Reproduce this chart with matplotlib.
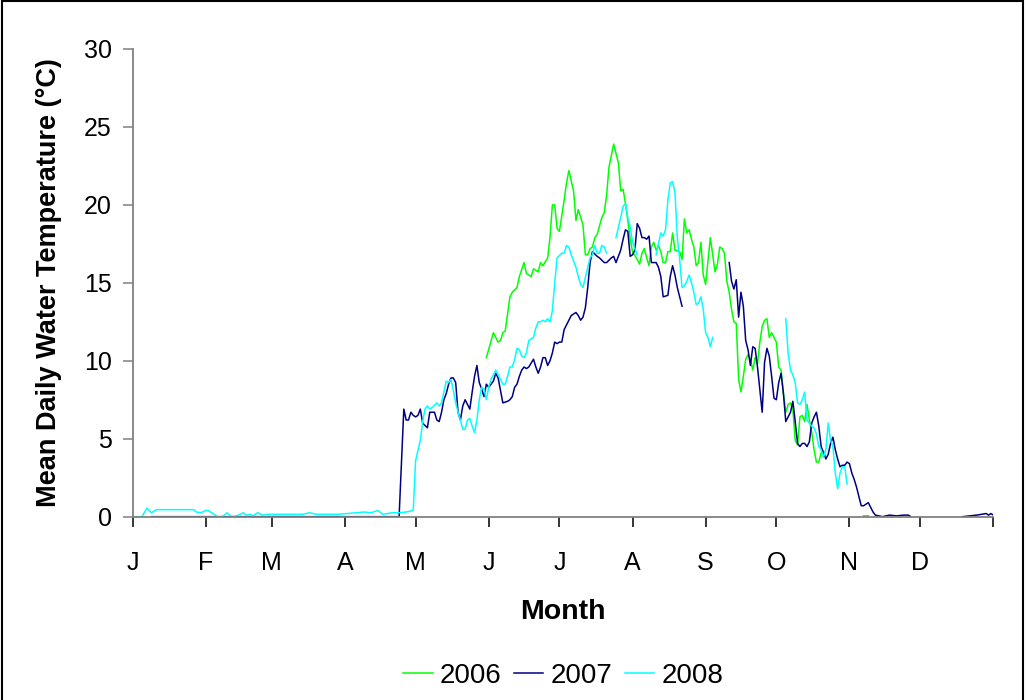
import numpy as np
import matplotlib
matplotlib.use('Agg')
import matplotlib.pyplot as plt
from matplotlib.patches import Rectangle

plt.rcParams['font.family'] = ['Liberation Sans', 'DejaVu Sans']

# 月份刻度 (每月第一天)
month_starts = [0, 31, 59, 90, 120, 151, 181, 212, 243, 273, 304, 334]
month_labels = ['J', 'F', 'M', 'A', 'M', 'J', 'J', 'A', 'S', 'O', 'N', 'D']

# 2006 (day of year, temperature); None = gap
days_2006 = [150, 153, 155, 156, 157, 158, 160, 161, 163, 164, 166, 167, 169, 170, 172, 173, 174, 176, 177, 178,
             179, 180, 181, 183, 184, 185, 187, 188, 189, 191, 192, 193, 194, 195, 196, 197, 199, 200, 201, 202,
             204, 206, 207, 208, 209, 210, 211, 212, 214, 215, 216, 217, 218, 219, 220, 221, 222, 223, 224, 225,
             226, 227, 228, 229, 230, 232, 233, 234, 235, 236, 237, 238, 239, 240, 241, 242, 243, 245, 247, 248,
             249, 250, 251, 252, 253, 254, 255, 256, 257, 258, 259, 260, 261, 262, 263, 264, 265, 266, 267, 268,
             269, 270, 271, 272, 273, 274, 275, 276, 277, 278, 279, 280, 281, 282, 283, 284, 285, 286, 287, 288,
             289, 290, 291, 292, 293, 294, None, 310, 312]
temp_2006 = [10.2, 11.8, 11.2, 11.3, 11.8, 11.9, 14.1, 14.4, 14.7, 15.4, 16.3, 15.6, 15.4, 15.9, 15.7, 16.3, 16.1, 16.6, 17.9, 20.0,
             20.0, 18.5, 18.3, 20.3, 21.4, 22.2, 20.9, 19.0, 19.7, 18.7, 16.8, 16.8, 17.2, 17.3, 17.9, 18.1, 19.2, 19.5, 20.6, 22.4,
             23.9, 22.7, 20.9, 21.0, 20.1, 19.0, 17.8, 17.0, 16.5, 16.2, 16.9, 17.2, 16.6, 16.1, 17.3, 17.6, 17.1, 17.4, 17.0, 16.3,
             16.3, 17.0, 17.0, 18.2, 17.1, 17.0, 16.5, 19.1, 18.2, 18.4, 17.8, 17.3, 16.1, 16.3, 17.6, 15.5, 14.9, 17.9, 15.7, 16.2,
             17.3, 17.2, 16.9, 15.1, 14.4, 13.3, 12.5, 12.4, 8.8, 8.0, 9.0, 10.1, 10.4, 10.1, 9.4, 10.2, 9.8, 11.2, 12.2, 12.6,
             12.7, 11.5, 11.8, 11.5, 11.2, 9.6, 9.4, 7.9, 6.7, 7.2, 7.3, 6.9, 4.9, 4.6, 6.4, 6.5, 6.1, 7.2, 6.2, 5.4,
             4.3, 3.5, 3.5, 4.1, 4.2, 3.8, None, 0.05, 0.05]

# 2007
days_2007 = [8, 60, 112, 113, 115, 116, 117, 118, 119, 120, 121, 122, 123, 125, 126, 127, 128, 129, 130, 131,
             132, 133, 134, 135, 136, 137, 138, 139, 140, 141, 142, 143, 144, 145, 146, 147, 148, 149, 150, 151,
             152, 153, 154, 155, 157, 159, 160, 161, 162, 163, 164, 165, 166, 167, 168, 170, 171, 172, 173, 174,
             175, 176, 177, 178, 179, 180, 181, 182, 183, 185, 186, 188, 189, 190, 191, 192, 193, 194, 195, 197,
             198, 200, 201, 203, 204, 205, 207, 208, 209, 210, 211, 212, 213, 214, 215, 216, 217, 218, 219, 220,
             222, 223, 224, 225, 227, 228, 229, 230, 231, 232, 233, None,
             253, 254, 255, 256, 257, 258, 259, 260, 261, 262, 263, 264, 265, 267, 268, 269, 270, 271, 272, 273,
             274, 275, 276, 277, 278, 279, 280, 281, 282, 283, 284, 285, 286, 287, 288, 289, 290, 291, 292, 293,
             294, 295, 296, 297, 298, 299, 300, 301, 302, 303, 304, 305, 306, 307, 308, 309, 310, 311, 312, 313,
             314, 315, 318, 321, 324, 327, 329, 330, None,
             352, 355, 358, 360, 362, 363, 364, 365]
temp_2007 = [0.0, 0.0, 0.0, 0.0, 6.9, 6.2, 6.2, 6.7, 6.5, 6.4, 6.5, 6.9, 6.0, 5.7, 6.7, 6.7, 6.7, 6.2, 6.1, 6.7,
             7.5, 7.9, 8.5, 8.9, 8.9, 8.6, 6.7, 6.2, 7.1, 7.5, 7.2, 6.9, 8.0, 9.0, 9.7, 8.6, 8.2, 7.7, 8.5, 8.3,
             8.5, 8.7, 9.2, 8.9, 7.3, 7.4, 7.5, 7.7, 8.3, 8.5, 9.0, 9.4, 9.6, 9.5, 9.6, 10.1, 9.6, 9.2, 9.6, 10.2,
             10.2, 9.7, 10.0, 10.5, 11.2, 11.1, 11.2, 11.2, 12.0, 12.6, 12.9, 13.1, 12.9, 12.6, 12.8, 13.4, 14.7, 16.3, 17.0, 16.7,
             16.6, 16.3, 16.3, 16.6, 16.7, 16.3, 17.1, 17.8, 18.4, 18.3, 16.7, 16.8, 17.1, 18.8, 18.5, 17.9, 17.9, 17.8, 18.0, 16.3,
             16.3, 16.0, 15.4, 14.1, 14.2, 15.4, 16.1, 15.5, 14.7, 14.1, 13.5, None,
             16.3, 15.1, 14.6, 15.2, 12.8, 14.4, 13.5, 11.3, 10.7, 9.7, 10.9, 10.8, 9.6, 6.7, 9.9, 10.8, 10.3, 9.0, 7.6, 7.5,
             8.6, 9.2, 7.9, 6.1, 6.4, 6.7, 7.4, 6.1, 4.7, 4.5, 4.7, 4.7, 4.5, 4.8, 6.0, 6.4, 6.7, 5.8, 4.5, 4.1,
             3.7, 4.0, 4.7, 5.1, 4.3, 3.7, 3.2, 3.3, 3.3, 3.5, 3.4, 2.8, 2.4, 1.9, 1.3, 0.7, 0.7, 0.8, 0.9, 0.6,
             0.3, 0.1, 0.0, 0.1, 0.05, 0.1, 0.1, 0.0, None,
             0.0, 0.05, 0.1, 0.15, 0.2, 0.1, 0.2, 0.1]

# 2008
days_2008 = [0, 4, 6, 8, 10, 26, 27, 29, 31, 32, 34, 36, 38, 40, 42, 44, 47, 48, 50, 51,
             53, 55, 57, 72, 75, 78, 87, 95, 98, 101, 104, 106, 110, 113, 116, 119, 120, 122, 123, 124,
             125, 126, 127, 129, 130, 131, 132, 133, 134, 135, 136, 137, 138, 139, 140, 141, 142, 143, 144, 145,
             146, 147, 148, 149, 150, 151, 152, 153, 154, 155, 157, 158, 159, 160, 161, 162, 163, 164, 165, 166,
             167, 168, 170, 171, 172, 173, 174, 175, 176, 177, 178, 179, 180, 182, 183, 184, 185, 186, 188, 189,
             190, 191, 193, 194, 195, 196, 197, 198, 199, 200, 201, None,
             205, 207, 208, 209, 210, 211, 212, 213, 214, None,
             222, 224, 225, 226, 227, 228, 229, 230, 231, 232, 233, 234, 235, 236, 237, 238, 239, 240, 241, 242,
             243, 244, 245, 246, None,
             277, 278, 279, 280, 281, 282, 283, 284, 285, 286, 288, 289, 290, 291, 292, 293, 294, 295, 296, 297,
             298, 299, 300, 301, 302, 303]
temp_2008 = [0.0, 0.0, 0.55, 0.25, 0.45, 0.45, 0.3, 0.25, 0.4, 0.4, 0.2, 0.0, 0.0, 0.25, 0.0, 0.05, 0.25, 0.1, 0.15, 0.05,
             0.25, 0.1, 0.15, 0.15, 0.25, 0.15, 0.15, 0.25, 0.3, 0.25, 0.4, 0.15, 0.25, 0.25, 0.3, 0.4, 3.6, 4.9, 6.1, 6.9,
             7.1, 6.9, 7.0, 7.3, 7.1, 7.3, 8.0, 8.7, 8.6, 8.8, 8.1, 7.3, 6.7, 6.2, 5.6, 5.6, 6.2, 6.3, 5.8, 5.4,
             6.2, 7.5, 8.3, 8.2, 7.5, 8.3, 8.8, 9.1, 9.4, 9.1, 8.5, 8.5, 9.0, 9.6, 9.6, 10.1, 10.8, 10.7, 10.3, 10.2,
             10.5, 11.3, 11.5, 12.1, 12.5, 12.5, 12.6, 12.5, 12.7, 12.5, 13.2, 15.0, 16.6, 16.9, 16.9, 17.4, 17.3, 16.8, 16.0, 15.4,
             14.9, 14.7, 16.0, 16.6, 16.8, 17.4, 16.9, 16.9, 17.4, 17.3, 16.9, None,
             17.9, 19.2, 19.9, 20.1, 19.2, 18.6, 17.6, 17.2, 16.8, None,
             16.8, 18.2, 18.0, 18.4, 20.3, 21.4, 21.5, 20.8, 17.9, 16.5, 14.7, 14.8, 15.1, 15.5, 15.0, 14.4, 13.6, 13.7, 14.1, 13.3,
             11.8, 11.5, 10.9, 11.5, None,
             12.7, 10.5, 9.4, 9.1, 8.6, 7.3, 7.2, 7.5, 8.0, 6.2, 5.8, 5.7, 5.3, 4.5, 4.3, 3.8, 4.3, 6.0, 4.9, 4.5,
             2.8, 1.8, 2.8, 3.2, 3.2, 2.1]


def to_arr(vals):
    return np.array([np.nan if v is None else v for v in vals], dtype=float)


fig = plt.figure(figsize=(10.26, 7.0), dpi=100)
ax = fig.add_axes([0.1293, 0.2619, 0.8388, 0.6681])

ax.plot(to_arr(days_2006), to_arr(temp_2006), color='#00FF00', lw=1.1, label='2006')
ax.plot(to_arr(days_2007), to_arr(temp_2007), color='#000080', lw=1.1, label='2007')
ax.plot(to_arr(days_2008), to_arr(temp_2008), color='#00FFFF', lw=1.1, label='2008')

ax.set_xlim(0, 365)
ax.set_ylim(0, 30)
ax.set_yticks([0, 5, 10, 15, 20, 25, 30])
ax.set_xticks(month_starts + [365])
ax.set_xticklabels(month_labels + [''])

for s in ['top', 'right']:
    ax.spines[s].set_visible(False)
for s in ['left', 'bottom']:
    ax.spines[s].set_color('#808080')
    ax.spines[s].set_linewidth(1.3)

ax.tick_params(axis='y', direction='out', length=7, width=1.1, color='#808080', pad=8, labelsize=18)
ax.tick_params(axis='x', direction='out', length=7, width=1.1, color='black', pad=18, labelsize=18)

ax.set_ylabel('Mean Daily Water Temperature (\u00b0C)', fontsize=19.5, fontweight='bold')
ax.yaxis.set_label_coords(-0.082, 0.5)
ax.set_xlabel('Month', fontsize=20.5, fontweight='bold')
ax.xaxis.set_label_coords(0.5, -0.175)

fig.legend(loc='center', bbox_to_anchor=(0.549, 0.034), ncol=3, frameon=False, fontsize=20,
           handlelength=1.05, handletextpad=0.25, columnspacing=0.47)

fig.add_artist(Rectangle((0.0015, -0.01), 0.996, 1.008, transform=fig.transFigure,
                         fill=False, lw=1.5, edgecolor='black'))

fig.savefig('out.png', dpi=100)
